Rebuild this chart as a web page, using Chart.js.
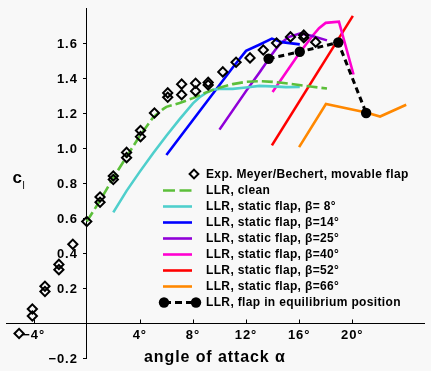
<!DOCTYPE html>
<html><head><meta charset="utf-8">
<script src="https://cdn.jsdelivr.net/npm/chart.js@4.4.1/dist/chart.umd.min.js"></script>
<style>
html,body{margin:0;padding:0;background:#f8f8f8;}
canvas{display:block;}
</style></head><body>
<canvas id="c" width="431" height="371"></canvas>
<script>
// ---- data (angle of attack in degrees, lift coefficient c_l) ----
const expAoa = [-5.1,-4.1,-4.1,-3.15,-3.15,-2.1,-2.1,-1.05,0,1.0,1.0,2.0,2.0,3.0,3.0,4.05,4.05,5.1,6.1,6.1,7.15,7.15,8.2,8.2,9.15,9.15,10.25,11.25,12.3,13.3,14.3,15.35,16.35,16.35,17.25];
const expCl  = [-0.06,0.08,0.04,0.21,0.18,0.335,0.305,0.45,0.58,0.72,0.69,0.84,0.82,0.975,0.945,1.10,1.065,1.20,1.315,1.29,1.365,1.305,1.37,1.325,1.375,1.36,1.435,1.49,1.515,1.56,1.60,1.635,1.645,1.63,1.605];

const cleanAoa = [0,1,2,3,4,5,5.8,6,7,8,9,10,11,12,13,14,15,16,17,18.1];
const cleanCl  = [0.58,0.70,0.83,0.95,1.07,1.175,1.225,1.235,1.257,1.285,1.318,1.345,1.365,1.378,1.382,1.378,1.37,1.36,1.35,1.34];

const flap8Aoa = [2,3,4,5,6,7,8,8.5,9,9.5,10,11,12,13,14,15,16.05];
const flap8Cl  = [0.632,0.755,0.865,0.97,1.07,1.165,1.255,1.29,1.315,1.333,1.338,1.338,1.346,1.355,1.352,1.348,1.349];

const flap14Aoa = [6,7,8,9,10,11,12,13,13.95,14.7,16.05];
const flap14Cl  = [0.96,1.06,1.16,1.26,1.36,1.46,1.555,1.59,1.625,1.605,1.592];

const flap25Aoa = [10,11,12,13,14,14.5,15.2,16.1,17,18.1];
const flap25Cl  = [1.105,1.215,1.325,1.43,1.54,1.59,1.634,1.655,1.64,1.615];

const flap40Aoa = [14,15,16,17,17.5,18,19,20.1];
const flap40Cl  = [1.32,1.43,1.54,1.64,1.685,1.715,1.722,1.42];

const flap52Aoa = [13.95,20.05];
const flap52Cl  = [1.015,1.755];

const flap66Aoa = [16,18.02,21.06,22.1,24.07];
const flap66Cl  = [1.005,1.251,1.203,1.18,1.247];

const eqAoa = [13.7,16.05,18.95,21.05];
const eqCl  = [1.51,1.55,1.603,1.20];

const xTickValues = [-4,4,8,12,16,20];
const xTickLabels = ['\u22124\u00b0','4\u00b0','8\u00b0','12\u00b0','16\u00b0','20\u00b0'];
const yTickValues = [-0.2,0.2,0.4,0.6,0.8,1.0,1.2,1.4,1.6];
const yTickLabels = ['\u22120.2','0.2','0.4','0.6','0.8','1.0','1.2','1.4','1.6'];

const seriesLabels = [
  'Exp. Meyer/Bechert, movable flap',
  'LLR, clean',
  'LLR, static flap, \u03b2= 8\u00b0',
  'LLR, static flap, \u03b2=14\u00b0',
  'LLR, static flap, \u03b2=25\u00b0',
  'LLR, static flap, \u03b2=40\u00b0',
  'LLR, static flap, \u03b2=52\u00b0',
  'LLR, static flap, \u03b2=66\u00b0',
  'LLR, flap in equilibrium position'
];
const xTitle = 'angle of attack \u03b1';

function pts(a, c){ return a.map((v,i)=>({x:v, y:c[i]})); }

function lineDs(label, a, c, color, dash){
  return {label, data: pts(a,c), borderColor: color, backgroundColor: color,
    borderWidth: 2.6, borderDash: dash || [], pointRadius: 0, pointHoverRadius: 0,
    tension: 0, order: 2, kind: dash ? 'dash' : 'line'};
}

const datasets = [
  {label: seriesLabels[0], data: pts(expAoa, expCl), showLine: false,
   pointStyle: 'rectRot', pointRadius: 4.6, pointBorderWidth: 2,
   borderColor: '#000', backgroundColor: 'rgba(0,0,0,0)', pointBackgroundColor: 'rgba(0,0,0,0)',
   order: 0, kind: 'diamond'},
  lineDs(seriesLabels[1], cleanAoa, cleanCl, '#5cbf3a', [11,4]),
  lineDs(seriesLabels[2], flap8Aoa, flap8Cl, '#4fcfcc'),
  lineDs(seriesLabels[3], flap14Aoa, flap14Cl, '#0000ff'),
  lineDs(seriesLabels[4], flap25Aoa, flap25Cl, '#9000d8'),
  lineDs(seriesLabels[5], flap40Aoa, flap40Cl, '#ff00d0'),
  lineDs(seriesLabels[6], flap52Aoa, flap52Cl, '#ff0000'),
  lineDs(seriesLabels[7], flap66Aoa, flap66Cl, '#ff8800'),
  {label: seriesLabels[8], data: pts(eqAoa, eqCl), borderColor: '#000', backgroundColor: '#000',
   borderWidth: 3, borderDash: [6,4], pointRadius: 5.2, pointBackgroundColor: '#000',
   pointBorderColor: '#000', pointBorderWidth: 0, tension: 0, order: 1, kind: 'eq'}
];

const FONT = '"Liberation Sans", Arial, Helvetica, sans-serif';

const decor = {
  id: 'decor',
  beforeDraw(chart){
    const ctx = chart.ctx;
    ctx.save();
    ctx.fillStyle = '#f8f8f8';
    ctx.fillRect(0,0,chart.width,chart.height);
    ctx.restore();
  },
  afterDraw(chart){
    const {ctx, scales:{x, y}} = chart;
    const x0 = x.getPixelForValue(0), y0 = y.getPixelForValue(0);
    ctx.save();
    ctx.strokeStyle = '#000'; ctx.fillStyle = '#000'; ctx.lineWidth = 1;
    ctx.setLineDash([]);
    // tick marks
    ctx.beginPath();
    xTickValues.forEach(v => {
      const px = Math.round(x.getPixelForValue(v)) + 0.5;
      ctx.moveTo(px, Math.round(y0) - 3.5); ctx.lineTo(px, Math.round(y0));
    });
    yTickValues.forEach(v => {
      const py = Math.round(y.getPixelForValue(v)) + 0.5;
      ctx.moveTo(Math.round(x0) - 4, py); ctx.lineTo(Math.round(x0), py);
    });
    ctx.stroke();
    // tick labels
    ctx.font = 'bold 13px ' + FONT;
    if ('letterSpacing' in ctx) ctx.letterSpacing = '0.9px';
    ctx.textBaseline = 'alphabetic';
    ctx.textAlign = 'center';
    xTickValues.forEach((v,i) => {
      ctx.fillText(xTickLabels[i], x.getPixelForValue(v), y0 + 15.5);
    });
    ctx.textAlign = 'right';
    yTickValues.forEach((v,i) => {
      ctx.fillText(yTickLabels[i], x0 - 9, y.getPixelForValue(v) + 4.6);
    });
    // axis titles
    ctx.textAlign = 'left';
    ctx.font = 'bold 16px ' + FONT;
    if ('letterSpacing' in ctx) ctx.letterSpacing = '0.9px';
    ctx.fillText(xTitle, 144, 362);
    ctx.font = 'bold 17px ' + FONT;
    if ('letterSpacing' in ctx) ctx.letterSpacing = '0px';
    ctx.fillText('c', 12.5, 182.5);
    ctx.font = '10px ' + FONT;
    ctx.fillText('l', 22.5, 189);
    // legend
    ctx.font = 'bold 12px ' + FONT;
    if ('letterSpacing' in ctx) ctx.letterSpacing = '0.35px';
    chart.data.datasets.forEach((ds, i) => {
      const ry = 174 + 16 * i;
      ctx.save();
      if (ds.kind === 'diamond') {
        ctx.strokeStyle = '#000'; ctx.lineWidth = 2;
        const r = 4.4, cx = 194;
        ctx.beginPath();
        ctx.moveTo(cx, ry - r); ctx.lineTo(cx + r, ry); ctx.lineTo(cx, ry + r); ctx.lineTo(cx - r, ry); ctx.closePath();
        ctx.stroke();
      } else if (ds.kind === 'eq') {
        ctx.strokeStyle = '#000'; ctx.lineWidth = 3; ctx.setLineDash([7,4]);
        ctx.beginPath(); ctx.moveTo(164, ry + 0.5); ctx.lineTo(196, ry + 0.5); ctx.stroke();
        ctx.fillStyle = '#000';
        [164, 196].forEach(cx => { ctx.beginPath(); ctx.arc(cx, ry + 0.5, 5.2, 0, Math.PI*2); ctx.fill(); });
      } else {
        ctx.strokeStyle = ds.borderColor; ctx.lineWidth = 2.6;
        ctx.setLineDash(ds.kind === 'dash' ? [12,4.5] : []);
        ctx.beginPath(); ctx.moveTo(163, ry + 0.5); ctx.lineTo(192, ry + 0.5); ctx.stroke();
      }
      ctx.restore();
      ctx.fillStyle = '#000';
      ctx.textAlign = 'left';
      ctx.fillText(ds.label, 206, ry + 4.3);
    });
    ctx.restore();
  }
};

new Chart(document.getElementById('c'), {
  type: 'line',
  data: { datasets },
  options: {
    responsive: false,
    animation: false,
    devicePixelRatio: 1,
    layout: { padding: { left: 3, right: 3, top: 8, bottom: 13 } },
    plugins: { legend: { display: false }, tooltip: { enabled: false }, title: { display: false } },
    scales: {
      x: {
        type: 'linear', min: -6.04, max: 25.44, position: { y: 0 },
        grid: { display: false, drawTicks: false },
        border: { display: true, color: '#000', width: 1 },
        ticks: { display: false }
      },
      y: {
        type: 'linear', min: -0.2, max: 1.8, position: { x: 0 },
        grid: { display: false, drawTicks: false },
        border: { display: true, color: '#000', width: 1 },
        ticks: { display: false }
      }
    }
  },
  plugins: [decor]
});
</script>
</body></html>
